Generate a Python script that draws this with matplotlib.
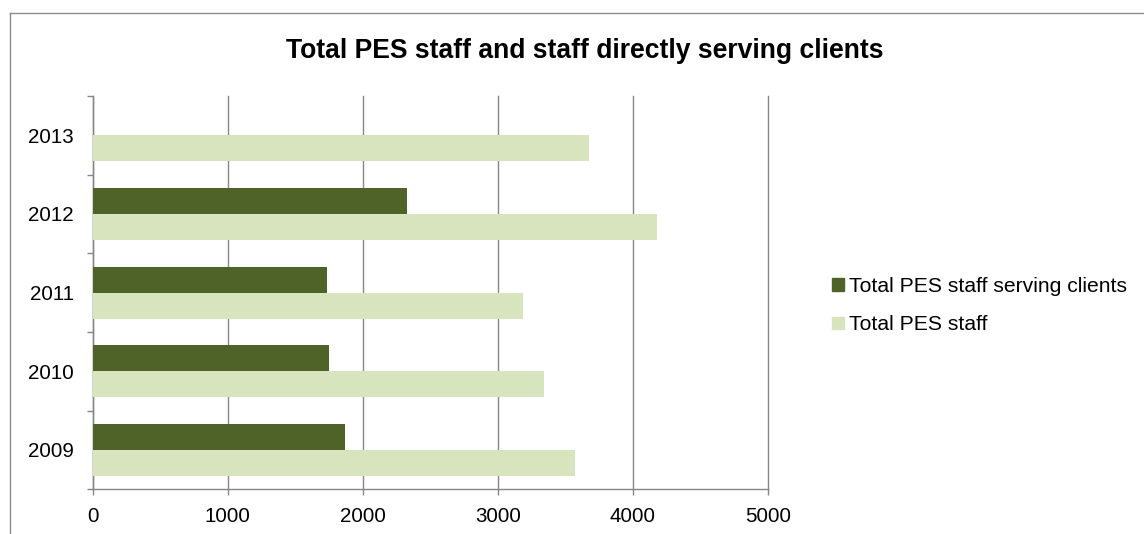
import matplotlib
matplotlib.use("Agg")
import matplotlib.pyplot as plt
import numpy as np
from matplotlib.lines import Line2D
from matplotlib.patches import Patch

plt.rcParams['font.family'] = ['Liberation Sans', 'DejaVu Sans']

years = ['2009', '2010', '2011', '2012', '2013']
serving = [1869, 1748, 1733, 2330, np.nan]
total = [3573, 3341, 3185, 4180, 3676]
x_ticks = [0, 1000, 2000, 3000, 4000, 5000]

dark = '#4F6228'
light = '#D7E4BD'
grey = '#868686'

W, H = 1144, 534
fig = plt.figure(figsize=(W / 100, H / 100), dpi=100)

# outer chart frame (only top and left edges are visible in the crop)
fig.add_artist(Line2D([9.5 / W, 1.0], [1 - 12.7 / H, 1 - 12.7 / H],
                      transform=fig.transFigure, color='#8c8c8c', lw=1.0))
fig.add_artist(Line2D([9.5 / W, 9.5 / W], [0.0, 1 - 12.7 / H],
                      transform=fig.transFigure, color='#8c8c8c', lw=1.0))

ax = fig.add_axes([92.7 / W, 44.7 / H, (767.7 - 92.7) / W, (489.3 - 96) / H])

y = np.arange(len(years))
h = 0.33
ax.barh(y + h / 2, serving, height=h, color=dark, label='Total PES staff serving clients', zorder=3)
ax.barh(y - h / 2, total, height=h, color=light, label='Total PES staff', zorder=3)

ax.set_xlim(0, 5000)
ax.set_ylim(-0.5, len(years) - 0.5)

ax.set_xticks(x_ticks)
ax.set_xticklabels([str(v) for v in x_ticks], fontsize=14.8)
ax.xaxis.grid(True, color=grey, lw=1.0, zorder=0)
for gl in ax.get_xgridlines():
    gl.set_clip_on(False)
ax.tick_params(axis='x', direction='out', length=4, width=1.0, color=grey, pad=9)

# category boundaries as major ticks, labels on minor ticks
ax.set_yticks(np.arange(-0.5, len(years), 1.0))
ax.set_yticklabels([])
ax.set_yticks(y, minor=True)
ax.set_yticklabels(years, minor=True, fontsize=14.8)
ax.tick_params(axis='y', which='major', direction='out', length=4, width=1.0, color=grey)
ax.tick_params(axis='y', which='minor', length=0, pad=13.5)

for s in ['top', 'right']:
    ax.spines[s].set_visible(False)
for s in ['left', 'bottom']:
    ax.spines[s].set_color(grey)
    ax.spines[s].set_linewidth(1.0)

fig.text(584.5 / W, 1 - 58 / H, 'Total PES staff and staff directly serving clients',
         ha='center', va='baseline', fontsize=19.1, fontweight='bold')

handles = [Patch(color=dark), Patch(color=light)]
fig.legend(handles, ['Total PES staff serving clients', 'Total PES staff'],
           loc='upper left', bbox_to_anchor=(832 / W, 1 - 277 / H),
           frameon=False, fontsize=15.2, handlelength=0.55, handleheight=0.55,
           handletextpad=0.25, labelspacing=0.92, borderpad=0, borderaxespad=0)

fig.savefig('out.png', dpi=100)
